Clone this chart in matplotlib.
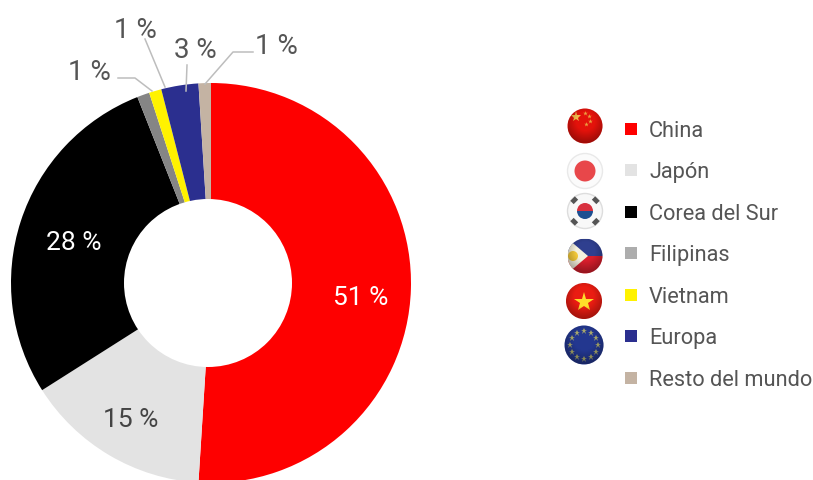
import numpy as np
import matplotlib
matplotlib.use("Agg")
import matplotlib.pyplot as plt
from matplotlib.patches import Circle, Polygon, Rectangle, Wedge

plt.rcParams['font.family'] = ['Roboto', 'DejaVu Sans']

W, H = 813, 481

# market share by origin
categories = ["China", "Japón", "Corea del Sur", "Filipinas", "Vietnam", "Europa", "Resto del mundo"]
shares = [51, 15, 28, 1, 1, 3, 1]
colors = ["#fe0000", "#e3e3e3", "#000000", "#858585", "#fff200", "#2b2f8f", "#c4b3a3"]
legend_colors = ["#fe0000", "#e3e3e3", "#000000", "#adadad", "#fff200", "#2b2f8f", "#c4b3a3"]
share_labels = ["51 %", "15 %", "28 %", "1 %", "1 %", "3 %", "1 %"]

TEXT = "#555555"
LEADER = "#bdbdbd"

fig = plt.figure(figsize=(W / 100, H / 100), dpi=100)

# donut ring, the hole comes from the overlay below
ax_pie = fig.add_axes([11 / W, (H - 484) / H, 400 / W, 400 / H])
ax_pie.pie(shares, colors=colors, startangle=90, counterclock=False, radius=1,
           wedgeprops={"linewidth": 0})
ax_pie.set_xlim(-1, 1)
ax_pie.set_ylim(-1, 1)

# overlay in pixel coordinates
ax = fig.add_axes([0, 0, 1, 1])
ax.set_xlim(0, W)
ax.set_ylim(H, 0)
ax.axis("off")
ax.patch.set_alpha(0)

ax.add_patch(Circle((208, 284), 84, fc="white", ec="none", zorder=2))

# labels inside the ring
ax.text(361, 298, share_labels[0], color="white", fontsize=19, ha="center", va="center", zorder=3)
ax.text(131, 420, share_labels[1], color="#444444", fontsize=19, ha="center", va="center", zorder=3)
ax.text(74, 243, share_labels[2], color="white", fontsize=19, ha="center", va="center", zorder=3)

# labels outside the ring with their leader lines
ax.text(89, 72, share_labels[3], color=TEXT, fontsize=20, ha="center", va="center")
ax.plot([118, 135, 152], [79, 79, 92], color=LEADER, lw=1.1, zorder=3)
ax.text(135, 30, share_labels[4], color=TEXT, fontsize=20, ha="center", va="center")
ax.plot([145, 165], [40, 88], color=LEADER, lw=1.1, zorder=3)
ax.text(195, 51, share_labels[5], color=TEXT, fontsize=20, ha="center", va="center")
ax.plot([187, 186], [66, 92], color=LEADER, lw=1.1, zorder=3)
ax.text(276, 46, share_labels[6], color=TEXT, fontsize=20, ha="center", va="center")
ax.plot([253, 233, 205], [53, 53, 85], color=LEADER, lw=1.1, zorder=3)

# legend rows
row_y = [130, 171, 213, 254, 296, 337, 379]
for name, c, y in zip(categories, legend_colors, row_y):
    ax.add_patch(Rectangle((625, y - 6), 12, 12, fc=c, ec="none"))
    ax.text(649, y + 1.5, name, color=TEXT, fontsize=15.7, ha="left", va="center")


def shade(cx, cy, r):
    # darkened rim so the flags look like glossy buttons
    n = 64
    yy, xx = np.mgrid[-1:1:n * 1j, -1:1:n * 1j]
    d = np.clip(np.hypot(xx, yy + 0.25), 0, 1.3)
    rgba = np.zeros((n, n, 4))
    rgba[..., 3] = np.clip((d - 0.55) * 0.45, 0, 0.3)
    im = ax.imshow(rgba, extent=(cx - r, cx + r, cy + r, cy - r), zorder=6, interpolation="bilinear")
    im.set_clip_path(Circle((cx, cy), r, transform=ax.transData))


def disc(cx, cy, r, c, ec="none", z=4):
    p = Circle((cx, cy), r, fc=c, ec=ec, zorder=z)
    ax.add_patch(p)
    return p


def flag_china(cx, cy, r):
    disc(cx, cy, r, "#e3120b")
    ax.plot(cx - 9, cy - 9, marker="*", ms=8, color="#f0b84a", mew=0, zorder=5)
    for dx, dy in [(0, -13), (4, -10), (5, -5), (1, -2)]:
        ax.plot(cx + dx, cy + dy, marker="*", ms=3.5, color="#eba040", mew=0, zorder=5)
    shade(cx, cy, r)


def flag_japan(cx, cy, r):
    disc(cx, cy, r, "#fbfbfb", ec="#e9e9e9")
    disc(cx, cy, 10.5, "#e8474a", z=5)


def flag_korea(cx, cy, r):
    disc(cx, cy, r, "#f8f8f8", ec="#dddddd")
    ax.add_patch(Wedge((cx, cy), 8, 180, 360, fc="#d8303f", ec="none", zorder=5))
    ax.add_patch(Wedge((cx, cy), 8, 0, 180, fc="#1d4f91", ec="none", zorder=5))
    for sx, sy in [(-1, -1), (1, -1), (-1, 1), (1, 1)]:
        ax.plot([cx + sx * 8.5, cx + sx * 13], [cy + sy * 13, cy + sy * 8.5],
                color="#555555", lw=3.4, solid_capstyle="butt", zorder=5)


def flag_philippines(cx, cy, r):
    base = disc(cx, cy, r, "#ffffff")
    top = Rectangle((cx - r, cy - r), 2 * r, r, fc="#2f3f8f", ec="none", zorder=4)
    bot = Rectangle((cx - r, cy), 2 * r, r, fc="#d81e2c", ec="none", zorder=4)
    tri = Polygon([(cx - r, cy - r), (cx + 3, cy), (cx - r, cy + r)], fc="#f5f1de", ec="none", zorder=5)
    for p in (top, bot, tri):
        ax.add_patch(p)
        p.set_clip_path(base)
    sun = disc(cx - 12, cy, 5, "#f2c83a", z=6)
    sun.set_clip_path(base)
    shade(cx, cy, r)


def flag_vietnam(cx, cy, r):
    disc(cx, cy, r, "#ea1c12")
    ax.plot(cx, cy + 0.5, marker="*", ms=15, color="#ffdd2a", mew=0, zorder=5)
    shade(cx, cy, r)


def flag_europe(cx, cy, r):
    disc(cx, cy, r, "#23378f")
    for a in np.arange(0, 360, 30):
        ax.plot(cx + 14 * np.cos(np.radians(a)), cy + 14 * np.sin(np.radians(a)),
                marker="*", ms=4.5, color="#a8a86a", mew=0, zorder=5)
    shade(cx, cy, r)


flag_china(585, 127, 17.5)
flag_japan(585, 172, 17.5)
flag_korea(585, 212, 17.5)
flag_philippines(585, 257, 17.5)
flag_vietnam(584, 302, 18)
flag_europe(584, 346, 19.5)

ax.set_xlim(0, W)
ax.set_ylim(H, 0)
ax.set_aspect("auto")

fig.savefig("out.png", dpi=100, facecolor="white")
